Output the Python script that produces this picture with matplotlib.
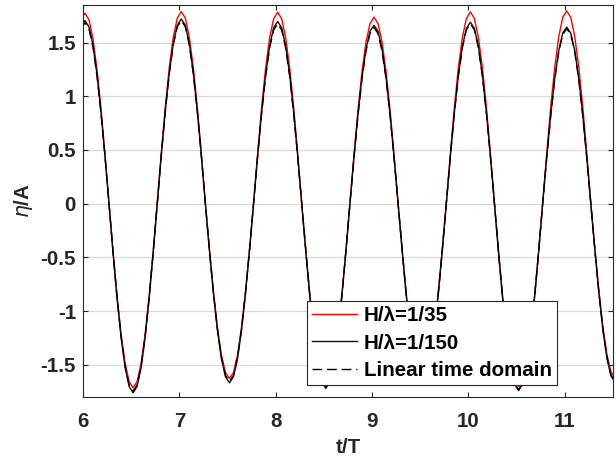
import numpy as np
import matplotlib
matplotlib.use("Agg")
import matplotlib.pyplot as plt

plt.rcParams['font.family'] = ['Liberation Sans', 'DejaVu Sans']
plt.rcParams['axes.unicode_minus'] = False
plt.rcParams['mathtext.fontset'] = 'dejavusans'

# time sampling (t/T): first sample, step
T_START = 5.97833
DT = 1.0 / 24.0

eta_h35 = [
    1.714, 1.774,
    1.714, 1.536, 1.254, 0.887, 0.459, 0.0,
    -0.444, -0.857, -1.212, -1.484, -1.656, -1.714, -1.656, -1.484, -1.212, -0.857, -0.444, 0.0,
    0.463, 0.895, 1.265, 1.549, 1.728, 1.789,
    1.728, 1.549, 1.265, 0.895, 0.463, 0.0,
    -0.421, -0.814, -1.151, -1.410, -1.572, -1.628, -1.572, -1.410, -1.151, -0.814, -0.421, 0.0,
    0.461, 0.892, 1.261, 1.544, 1.722, 1.783,
    1.722, 1.544, 1.261, 0.892, 0.461, 0.0,
    -0.435, -0.840, -1.188, -1.455, -1.623, -1.680, -1.623, -1.455, -1.188, -0.840, -0.435, 0.0,
    0.450, 0.869, 1.228, 1.504, 1.678, 1.737,
    1.678, 1.504, 1.228, 0.869, 0.450, 0.0,
    -0.427, -0.825, -1.167, -1.429, -1.594, -1.650, -1.594, -1.429, -1.167, -0.825, -0.427, 0.0,
    0.462, 0.893, 1.263, 1.547, 1.725, 1.786,
    1.725, 1.547, 1.263, 0.893, 0.462, 0.0,
    -0.440, -0.850, -1.202, -1.472, -1.642, -1.700, -1.642, -1.472, -1.202, -0.850, -0.440, 0.0,
    0.465, 0.898, 1.269, 1.554, 1.734, 1.795,
    1.734, 1.554, 1.269, 0.898, 0.465, 0.0,
    -0.419, -0.810, -1.146, -1.403, -1.565, -1.620,
]

eta_h150 = [
    1.647, 1.705,
    1.647, 1.477, 1.206, 0.853, 0.441, 0.0,
    -0.456, -0.881, -1.245, -1.525, -1.701, -1.761, -1.701, -1.525, -1.245, -0.881, -0.456, 0.0,
    0.445, 0.860, 1.216, 1.490, 1.661, 1.720,
    1.661, 1.490, 1.216, 0.860, 0.445, 0.0,
    -0.432, -0.834, -1.179, -1.444, -1.611, -1.668, -1.611, -1.444, -1.179, -0.834, -0.432, 0.0,
    0.439, 0.848, 1.199, 1.469, 1.638, 1.696,
    1.638, 1.469, 1.199, 0.848, 0.439, 0.0,
    -0.445, -0.860, -1.216, -1.490, -1.661, -1.720, -1.661, -1.490, -1.216, -0.860, -0.445, 0.0,
    0.430, 0.831, 1.175, 1.439, 1.605, 1.662,
    1.605, 1.439, 1.175, 0.831, 0.430, 0.0,
    -0.437, -0.845, -1.195, -1.464, -1.632, -1.690, -1.632, -1.464, -1.195, -0.845, -0.437, 0.0,
    0.437, 0.845, 1.195, 1.464, 1.632, 1.690,
    1.632, 1.464, 1.195, 0.845, 0.437, 0.0,
    -0.450, -0.870, -1.230, -1.507, -1.681, -1.740, -1.681, -1.507, -1.230, -0.870, -0.450, 0.0,
    0.425, 0.822, 1.162, 1.424, 1.588, 1.644,
    1.588, 1.424, 1.162, 0.822, 0.425, 0.0,
    -0.430, -0.830, -1.174, -1.438, -1.603, -1.660,
]

eta_linear = [
    1.628, 1.685,
    1.628, 1.459, 1.191, 0.843, 0.436, 0.0,
    -0.452, -0.873, -1.234, -1.511, -1.686, -1.745, -1.686, -1.511, -1.234, -0.873, -0.452, 0.0,
    0.441, 0.853, 1.206, 1.477, 1.647, 1.705,
    1.647, 1.477, 1.206, 0.853, 0.441, 0.0,
    -0.428, -0.828, -1.170, -1.433, -1.599, -1.655, -1.599, -1.433, -1.170, -0.828, -0.428, 0.0,
    0.433, 0.837, 1.184, 1.450, 1.617, 1.674,
    1.617, 1.450, 1.184, 0.837, 0.433, 0.0,
    -0.443, -0.855, -1.209, -1.481, -1.652, -1.710, -1.652, -1.481, -1.209, -0.855, -0.443, 0.0,
    0.424, 0.820, 1.160, 1.420, 1.584, 1.640,
    1.584, 1.420, 1.160, 0.820, 0.424, 0.0,
    -0.435, -0.840, -1.188, -1.455, -1.623, -1.680, -1.623, -1.455, -1.188, -0.840, -0.435, 0.0,
    0.433, 0.838, 1.184, 1.451, 1.618, 1.675,
    1.618, 1.451, 1.184, 0.838, 0.433, 0.0,
    -0.448, -0.865, -1.223, -1.498, -1.671, -1.730, -1.671, -1.498, -1.223, -0.865, -0.448, 0.0,
    0.422, 0.815, 1.153, 1.412, 1.574, 1.630,
    1.574, 1.412, 1.153, 0.815, 0.422, 0.0,
    -0.427, -0.825, -1.167, -1.429, -1.594, -1.650,
]

labels = ['H/\u03bb=1/35', 'H/\u03bb=1/150', 'Linear time domain']
xticks = [6, 7, 8, 9, 10, 11]
xticklabels = ['6', '7', '8', '9', '10', '11']
yticks = [-1.5, -1, -0.5, 0, 0.5, 1, 1.5]
yticklabels = ['-1.5', '-1', '-0.5', '0', '0.5', '1', '1.5']

t = T_START + np.arange(len(eta_h35)) * DT

TXT = '#262626'
FS = 14.8

fig = plt.figure(figsize=(6.16, 4.61), dpi=100)
ax = fig.add_axes([83 / 616, 1 - 397 / 461, 530 / 616, 392 / 461])

ax.plot(t, eta_h35, color='#ff0000', lw=1.0, label=labels[0])
ax.plot(t, eta_h150, color='#111111', lw=1.0, label=labels[1])
ax.plot(t, eta_linear, color='black', lw=1.0, ls=(0, (7, 3.5)), label=labels[2])

ax.set_xlim(6, 11.5)
ax.set_ylim(-1.8, 1.85)
ax.set_xticks(xticks)
ax.set_xticklabels(xticklabels)
ax.set_yticks(yticks)
ax.set_yticklabels(yticklabels)

ax.yaxis.grid(True, color='#d9d9d9', lw=0.9)
ax.set_axisbelow(True)

ax.tick_params(axis='both', direction='in', length=3.6, width=0.8, color=TXT,
               labelcolor=TXT, labelsize=FS, top=True, right=True)
ax.tick_params(axis='x', pad=11)
ax.tick_params(axis='y', pad=5)
for lab in ax.get_xticklabels() + ax.get_yticklabels():
    lab.set_fontweight('bold')
for sp in ax.spines.values():
    sp.set_color(TXT)
    sp.set_linewidth(0.8)

ax.set_xlabel('t/T', fontsize=FS, fontweight='bold', color=TXT, labelpad=5)
ax.set_ylabel(r'$\eta$/A', fontsize=FS, fontweight='bold', color=TXT, labelpad=4)

leg = ax.legend(loc='lower left', bbox_to_anchor=(0.4226, 0.0306), borderaxespad=0,
                prop={'weight': 'bold', 'size': FS}, handlelength=2.2,
                handletextpad=0.3, labelspacing=0.4, borderpad=0.25,
                fancybox=False, framealpha=1, edgecolor='#262626')
leg.get_frame().set_linewidth(0.8)
for txt in leg.get_texts():
    txt.set_color('black')

fig.savefig('out.png', dpi=100)
